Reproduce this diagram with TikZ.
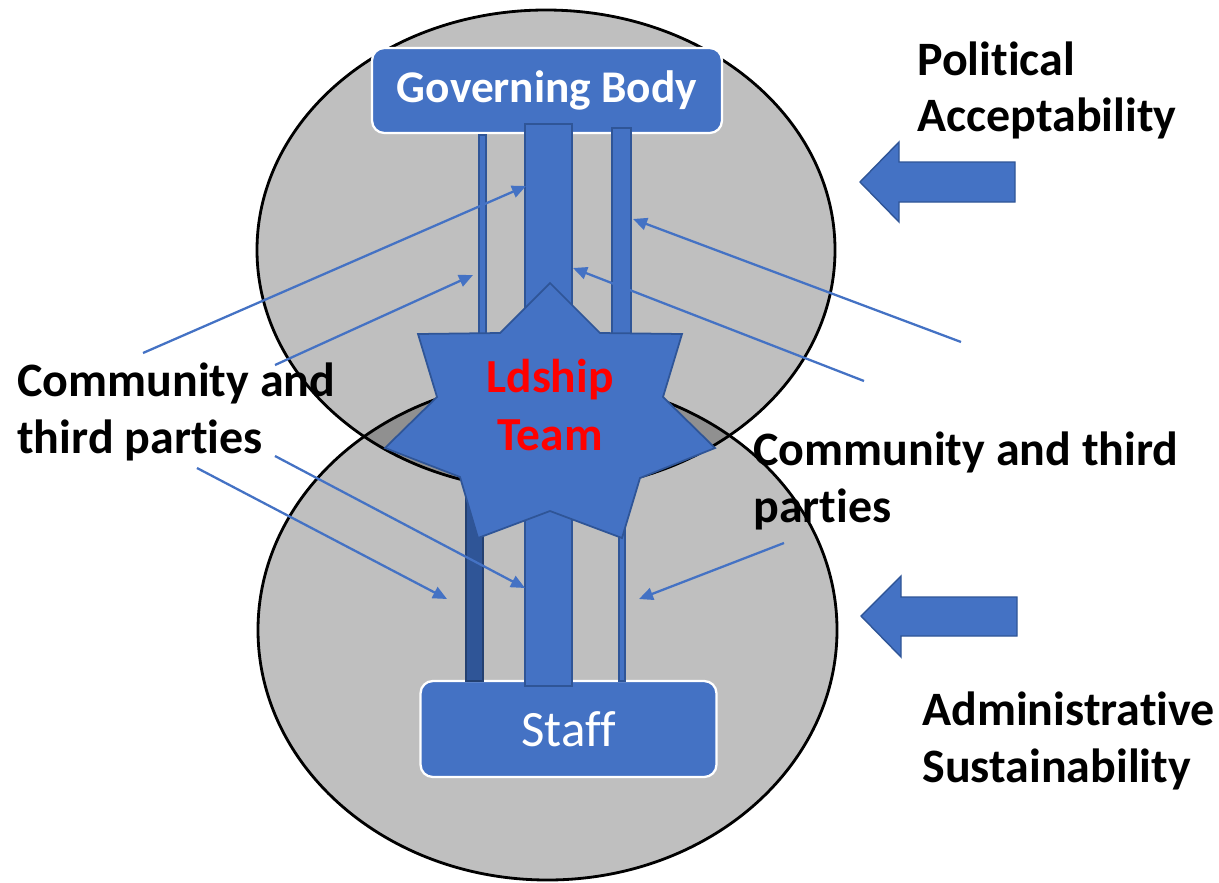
\documentclass[tikz,border=0pt]{standalone}
\usepackage{fontspec}
\setmainfont{Carlito}[Ligatures=NoCommon]
\usetikzlibrary{arrows.meta}

\definecolor{boxblue}{HTML}{4472C4}
\definecolor{edgeblue}{HTML}{2F5597}
\definecolor{ringgrey}{HTML}{BFBFBF}
\definecolor{lensgrey}{HTML}{909090}

\begin{document}
\begin{tikzpicture}[x=0.02cm,y=-0.02cm,>={Triangle[length=8pt,width=7pt]},
    box node/.style={rectangle,rounded corners=7pt,draw=white,line width=1.3pt,fill=boxblue,text=white},
    bar/.style={fill=boxblue,draw=edgeblue,line width=0.9pt},
    block/.style={fill=boxblue,draw=edgeblue,line width=0.8pt},
    link/.style={->,draw=boxblue,line width=1.3pt},
    ring/.style={line width=1.6pt},
    side text/.style={anchor=base west,align=left,inner sep=0pt,font=\fontsize{27.3}{32.3}\selectfont\bfseries}]
  \useasboundingbox (0,0) rectangle (1219,882);

  % the two rings and their overlap
  \fill[ringgrey] (546,250) ellipse [x radius=289, y radius=240];
  \fill[ringgrey] (547.5,630) ellipse [x radius=289.5, y radius=250];
  \begin{scope}
    \clip (546,250) ellipse [x radius=289, y radius=240];
    \fill[lensgrey] (547.5,630) ellipse [x radius=289.5, y radius=250];
  \end{scope}
  \draw[ring] (546,250) ellipse [x radius=289, y radius=240];
  \draw[ring] (547.5,630) ellipse [x radius=289.5, y radius=250];

  \node[box node,minimum width=7cm,minimum height=1.7cm,font=\fontsize{25.8}{30}\selectfont\bfseries] (gb) at (547,90.5) {Governing Body};
  \node[box node,minimum width=5.92cm,minimum height=1.92cm,font=\fontsize{29}{34}\selectfont] (st) at (568.5,729) {Staff};

  % pillars
  \filldraw[bar] (525,124) rectangle (572,686);
  \filldraw[bar] (479,135) rectangle (486,420);
  \filldraw[bar] (612,128) rectangle (631,420);
  \filldraw[bar,fill=edgeblue,draw=edgeblue!75!black] (466,420) rectangle (483,681);
  \filldraw[bar] (619,420) rectangle (625,681);

  % seven point star
  \filldraw[fill=boxblue,draw=edgeblue,line width=1pt] (550,283) -- (600,333) -- (682,334) -- (663,397)
    -- (715,448) -- (640,478) -- (622,538) -- (550,511) -- (478,538) -- (460,477)
    -- (385,448) -- (437,397) -- (418,334) -- (500,333) -- cycle;
  \node[align=center,text=red,font=\fontsize{27}{33}\selectfont\bfseries] (ld) at (550,405) {Ldship\\Team};

  % pressure arrows
  \filldraw[block] (860,182) -- (899,142) -- (899,162) -- (1015,162) -- (1015,202) -- (899,202) -- (899,222) -- cycle;
  \filldraw[block] (861,616) -- (901,576) -- (901,597) -- (1017,597) -- (1017,636) -- (901,636) -- (901,657) -- cycle;

  \node[side text] (pa) at (917,132) {Political\\Acceptability};
  \node[side text] (cl) at (17,453) {Community and\\third parties};
  \node[side text] (cr) at (753,522) {Community and third\\parties};
  \node[side text] (as) at (922,782) {Administrative\\Sustainability};

  \coordinate (s1) at (143,353); \coordinate (t1) at (526,186);
  \coordinate (s2) at (275,365); \coordinate (t2) at (473,275);
  \coordinate (s3) at (961,342); \coordinate (t3) at (633,219);
  \coordinate (s4) at (864,381); \coordinate (t4) at (573,268);
  \coordinate (s5) at (197,468); \coordinate (t5) at (447,599);
  \coordinate (s6) at (275,456); \coordinate (t6) at (525,588);
  \coordinate (s7) at (784,543); \coordinate (t7) at (639,599);
  \path (s1) edge[link] (t1)
        (s2) edge[link] (t2)
        (s3) edge[link] (t3)
        (s4) edge[link] (t4)
        (s5) edge[link] (t5)
        (s6) edge[link] (t6)
        (s7) edge[link] (t7);
\end{tikzpicture}
\end{document}
